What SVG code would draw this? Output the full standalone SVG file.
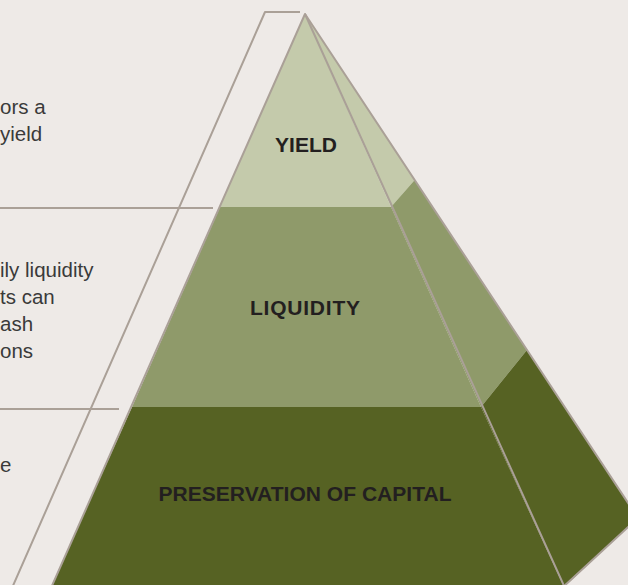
<svg xmlns="http://www.w3.org/2000/svg" width="628" height="585" viewBox="0 0 628 585">
<style>
.bg{fill:#eeeae7}
.l1{fill:#c4caab}
.l2{fill:#8f9a6a}
.l3{fill:#566223}
.edge{fill:none;stroke:#aaa097;stroke-width:2;stroke-linejoin:round}
.lbl{font-family:"Liberation Sans",Arial,sans-serif;font-weight:bold;font-size:21px;fill:#231f20;text-anchor:middle}
.body{font-family:"Liberation Sans",Arial,sans-serif;font-size:20.5px;fill:#3a3a3a}
</style>
<rect class="bg" x="0" y="0" width="628" height="585"/>
<g id="connectors">
<polyline class="edge" points="300,12 265,12 12,588"/>
<line class="edge" x1="0" y1="208" x2="213" y2="208"/>
<line class="edge" x1="0" y1="409" x2="119" y2="409"/>
</g>
<g id="yield">
<polygon class="l1" points="305,14 391,207 220,207"/>
<polygon class="l1" points="305,14 414.7,180 391,207"/>
<text class="lbl" x="306" y="152">YIELD</text>
</g>
<g id="liquidity">
<polygon class="l2" points="220,207 391,207 481,407 132,407"/>
<polygon class="l2" points="391,207 414.7,180 527,350 481,407"/>
<text class="lbl" x="305" y="315" textLength="110">LIQUIDITY</text>
</g>
<g id="preservation">
<polygon class="l3" points="132,407 481,407 564,587 51,587"/>
<polygon class="l3" points="481,407 527,350 638,518 564,587"/>
<text class="lbl" x="305" y="501" textLength="293">PRESERVATION OF CAPITAL</text>
</g>
<g id="outline">
<polyline class="edge" points="51,588 305,14 565,588"/>
<polyline class="edge" points="305,14 638,518 562,588"/>
</g>
<g id="notes">
<text class="body" x="0" y="114">ors a</text>
<text class="body" x="0" y="141">yield</text>
<text class="body" x="0" y="277">ily liquidity</text>
<text class="body" x="0" y="304">ts can</text>
<text class="body" x="0" y="331">ash</text>
<text class="body" x="0" y="358">ons</text>
<text class="body" x="0" y="472">e</text>
</g>
</svg>
